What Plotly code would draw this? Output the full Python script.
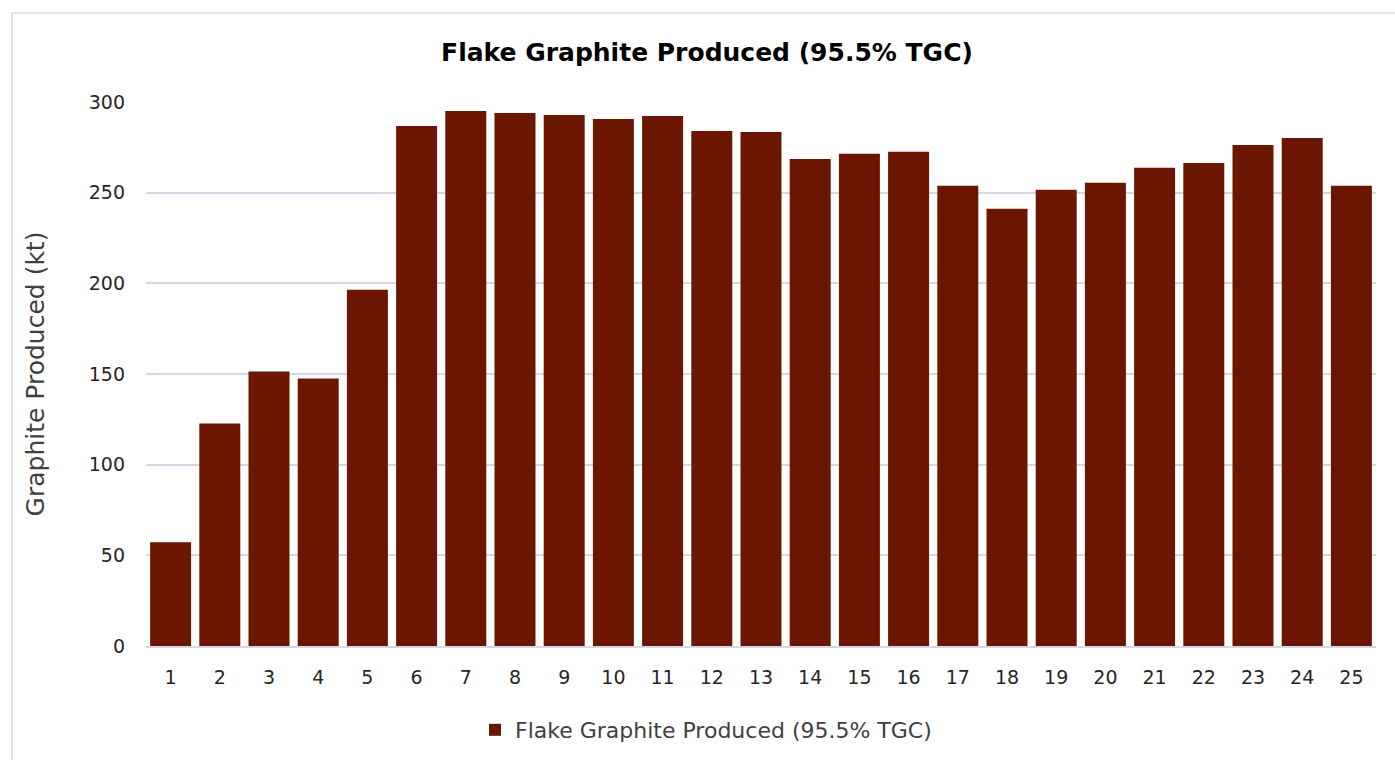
import plotly.graph_objects as go

# Annual flake graphite output by year
years = [str(i) for i in range(1, 26)]
produced_kt = [57.2, 122.7, 151.4, 147.5, 196.5, 286.8, 295.0, 293.9, 292.8, 290.6,
               292.3, 284.0, 283.5, 268.6, 271.4, 272.5, 253.8, 241.1, 251.6, 255.4,
               263.7, 266.4, 276.3, 280.2, 253.8]
y_ticks = [0, 50, 100, 150, 200, 250, 300]

series_name = "Flake Graphite Produced (95.5% TGC)"
bar_color = "#6A1600"
grid_color = "#D6D6EA"
text_color = "#404040"
font_family = "DejaVu Sans, sans-serif"

W, H = 1395, 760
L, R, T, B = 146, 19, 102, 114
pw, ph = W - L - R, H - T - B

fig = go.Figure(go.Bar(
    x=years, y=produced_kt, name=series_name,
    marker=dict(color=bar_color, line=dict(width=0)),
))

fig.update_layout(
    width=W, height=H,
    margin=dict(l=L, r=R, t=T, b=B),
    paper_bgcolor="white", plot_bgcolor="white",
    bargap=0.167,
    font=dict(family=font_family, color=text_color, size=18),
    title=dict(text="<b>" + series_name + "</b>", x=707 / W, xanchor="center",
               y=1 - 52 / H, yanchor="middle", yref="container",
               font=dict(size=25, color="#000000", family=font_family)),
    showlegend=True,
    legend=dict(orientation="h", xref="container", x=706 / W, xanchor="center",
                yref="container", y=1 - 730 / H, yanchor="middle",
                itemwidth=30,
                font=dict(size=22, color=text_color)),
    xaxis=dict(type="category", showgrid=False, showline=True, linecolor=grid_color,
               linewidth=1.5, ticks="", ticklabelstandoff=13,
               tickfont=dict(size=19, color="#262626")),
    yaxis=dict(range=[0, 300], tickvals=y_ticks, showgrid=True, gridcolor=grid_color,
               gridwidth=1.5, zeroline=False, ticks="", ticklabelstandoff=20,
               tickfont=dict(size=19, color="#262626"),
               title=dict(text="Graphite Produced (kt)", standoff=36,
                          font=dict(size=25, color=text_color))),
)

# light chart frame along the top and left edges
def px_x(px):
    return (px - L) / pw

def px_y(py):
    return (H - B - py) / ph

frame_color = "#D9D9E2"
fig.add_shape(type="line", xref="paper", yref="paper",
              x0=px_x(12), x1=px_x(W), y0=px_y(13), y1=px_y(13),
              line=dict(color=frame_color, width=1.5))
fig.add_shape(type="line", xref="paper", yref="paper",
              x0=px_x(12), x1=px_x(12), y0=px_y(13), y1=px_y(H),
              line=dict(color=frame_color, width=1.5))

fig.write_html("out.html")
